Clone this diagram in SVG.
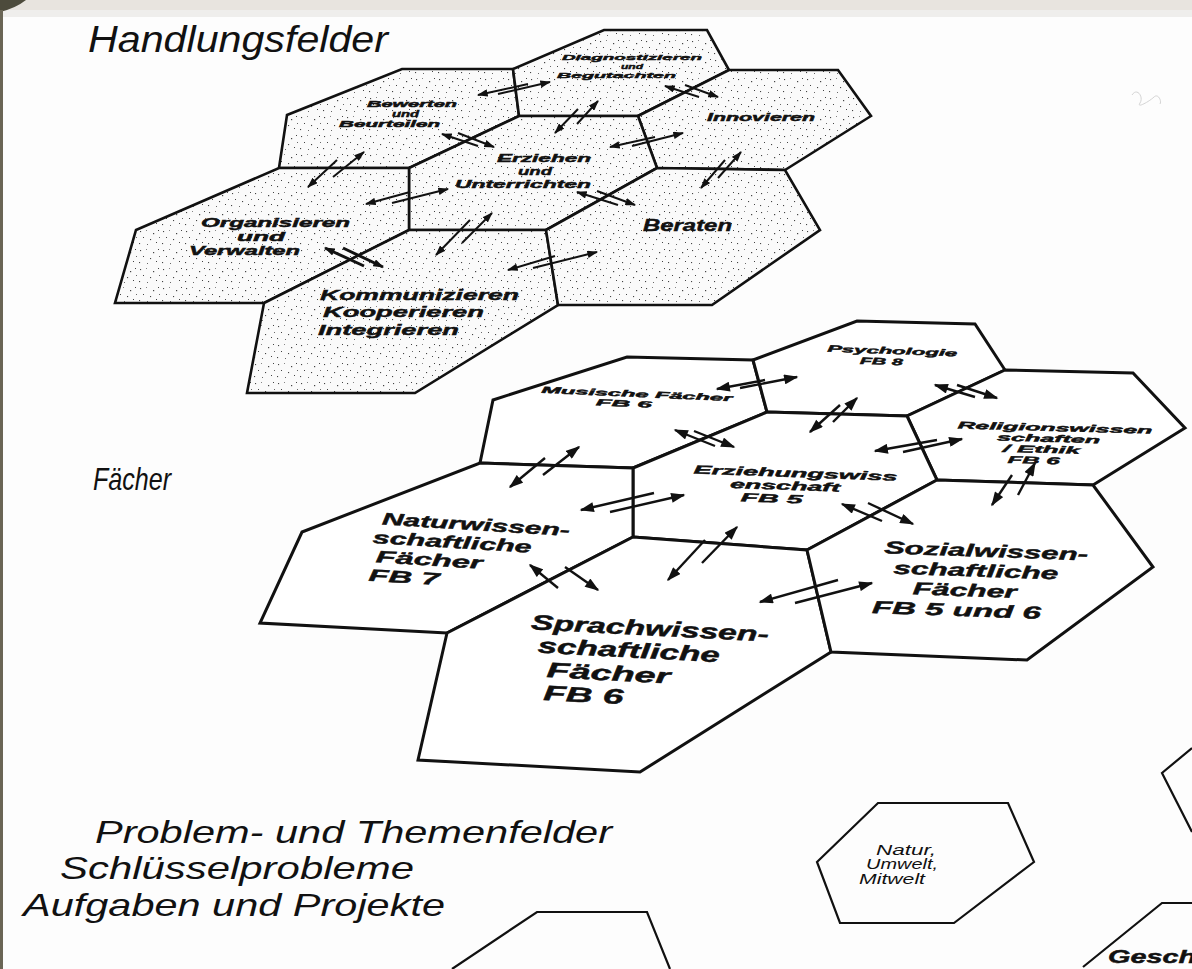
<svg xmlns="http://www.w3.org/2000/svg" width="1192" height="969" viewBox="0 0 1192 969">
<defs>
<pattern id="stip" width="23" height="19" patternUnits="userSpaceOnUse">
<rect width="23" height="19" fill="#fafafa"/>
<g fill="#444">
<rect x="2" y="3" width="1.1" height="1.1"/><rect x="15" y="5" width="1.2" height="1.2"/>
<rect x="20" y="2" width="1" height="1"/><rect x="5" y="9" width="1" height="1"/><rect x="12" y="11" width="1.1" height="1.1"/>
<rect x="18" y="14" width="1" height="1"/><rect x="1" y="15" width="1.1" height="1.1"/>
<rect x="9" y="16" width="0.9" height="0.9"/><rect x="21" y="9" width="0.9" height="0.9"/><rect x="8" y="2" width="0.8" height="0.8"/>
</g>
</pattern>
<marker id="ahS" viewBox="0 0 10 7" refX="9" refY="3.5" markerWidth="11" markerHeight="7.5" markerUnits="userSpaceOnUse" orient="auto"><path d="M0,0 L10,3.5 L0,7 z" fill="#111"/></marker>
<marker id="ahL" viewBox="0 0 10 7" refX="9" refY="3.5" markerWidth="15" markerHeight="10" markerUnits="userSpaceOnUse" orient="auto"><path d="M0,0 L10,3.5 L0,7 z" fill="#111"/></marker>
</defs>
<style>
.hexT{fill:url(#stip);stroke:#111;stroke-width:2.6;stroke-linejoin:miter}
.hexF{fill:#fff;stroke:#111;stroke-width:3}
.hexP{fill:none;stroke:#111;stroke-width:2.2}
.lbl{font-family:"Liberation Sans",Arial,sans-serif;font-weight:bold;font-style:italic;fill:#111;stroke:#111;stroke-width:0.45}
.head{font-family:"Liberation Sans Narrow","Liberation Sans",Arial,sans-serif;font-style:italic;fill:#111}
.reg{font-family:"Liberation Sans Narrow","Liberation Sans",Arial,sans-serif;font-style:italic;fill:#111}
.arT line{stroke:#111;stroke-width:2;marker-end:url(#ahS)}
.arX line{stroke:#111;stroke-width:3;marker-end:url(#ahS)}
.arF line{stroke:#111;stroke-width:2.4;marker-end:url(#ahL)}
</style>

<!-- page -->
<rect width="1192" height="969" fill="#fdfdfd"/>
<rect width="1192" height="10" fill="#e8e4df"/>
<rect y="10" width="1192" height="7" fill="#efeeec"/>
<path d="M0,0 H26 Q16,8 0,12 Z" fill="#4d4b3c"/>
<rect x="0" y="10" width="3" height="959" fill="#6a6555"/>
<path d="M1132,95 c5,-8 12,2 8,8 c-4,6 10,-2 14,-6 c4,-4 8,4 6,7" fill="none" stroke="#d4d4d4" stroke-width="1"/>

<!-- headings -->
<text class="head" x="88" y="52" font-size="36" textLength="300" lengthAdjust="spacingAndGlyphs">Handlungsfelder</text>
<text class="head" x="93" y="490" font-size="32" textLength="78" lengthAdjust="spacingAndGlyphs">Fächer</text>
<text class="head" x="95" y="843" font-size="32" textLength="517" lengthAdjust="spacingAndGlyphs">Problem- und Themenfelder</text>
<text class="head" x="60" y="879" font-size="32" textLength="354" lengthAdjust="spacingAndGlyphs">Schlüsselprobleme</text>
<text class="head" x="23" y="916" font-size="32" textLength="422" lengthAdjust="spacingAndGlyphs">Aufgaben und Projekte</text>

<!-- Handlungsfelder cluster -->
<g id="bewerten">
<polygon class="hexT" points="402,69 513,69 519,116 409,168 279,168 287,115"/>
<text class="lbl" font-size="9" x="367" y="107" textLength="90" lengthAdjust="spacingAndGlyphs">Bewerten</text>
<text class="lbl" font-size="9" x="392" y="117" textLength="27" lengthAdjust="spacingAndGlyphs">und</text>
<text class="lbl" font-size="9" x="339" y="127" textLength="101" lengthAdjust="spacingAndGlyphs">Beurteilen</text>
</g>
<g id="diagnostizieren">
<polygon class="hexT" points="604,30 707,30 729,70 638,116 519,116 513,69"/>
<text class="lbl" font-size="8" x="562" y="60" textLength="140" lengthAdjust="spacingAndGlyphs">Diagnostizieren</text>
<text class="lbl" font-size="8" x="621" y="69" textLength="22" lengthAdjust="spacingAndGlyphs">und</text>
<text class="lbl" font-size="8" x="557" y="78" textLength="119" lengthAdjust="spacingAndGlyphs">Begutachten</text>
</g>
<g id="innovieren">
<polygon class="hexT" points="729,70 838,70 871,116 785,170 657,168 638,116"/>
<text class="lbl" font-size="11" x="707" y="121" textLength="108" lengthAdjust="spacingAndGlyphs">Innovieren</text>
</g>
<g id="erziehen">
<polygon class="hexT" points="519,116 638,116 657,168 546,230 409,230 409,168"/>
<text class="lbl" font-size="11.5" x="497" y="162" textLength="94" lengthAdjust="spacingAndGlyphs">Erziehen</text>
<text class="lbl" font-size="11.5" x="518" y="175" textLength="34" lengthAdjust="spacingAndGlyphs">und</text>
<text class="lbl" font-size="11.5" x="455" y="188" textLength="136" lengthAdjust="spacingAndGlyphs">Unterrichten</text>
</g>
<g id="organisieren">
<polygon class="hexT" points="279,168 409,168 409,230 264,303 115,303 136,230"/>
<text class="lbl" font-size="12" x="201" y="227" textLength="149" lengthAdjust="spacingAndGlyphs">Organisieren</text>
<text class="lbl" font-size="12" x="237" y="241" textLength="48" lengthAdjust="spacingAndGlyphs">und</text>
<text class="lbl" font-size="12" x="189" y="255" textLength="111" lengthAdjust="spacingAndGlyphs">Verwalten</text>
</g>
<g id="kommunizieren">
<polygon class="hexT" points="409,230 546,230 558,305 415,393 247,393 264,303"/>
<text class="lbl" font-size="15.5" x="320" y="300" textLength="199" lengthAdjust="spacingAndGlyphs">Kommunizieren</text>
<text class="lbl" font-size="15.5" x="323" y="317" textLength="161" lengthAdjust="spacingAndGlyphs">Kooperieren</text>
<text class="lbl" font-size="15.5" x="318" y="335" textLength="141" lengthAdjust="spacingAndGlyphs">Integrieren</text>
</g>
<g id="beraten">
<polygon class="hexT" points="657,168 785,170 820,230 712,305 558,305 546,230"/>
<text class="lbl" font-size="17" x="643" y="231" textLength="89" lengthAdjust="spacingAndGlyphs">Beraten</text>
</g>

<!-- Fächer cluster -->
<g id="musische">
<polygon class="hexF" points="627,357 753,360 767,412 633,468 480,463 493,400"/>
<g transform="rotate(2.5 636 400)">
<text class="lbl" font-size="9" x="541" y="397" textLength="191" lengthAdjust="spacingAndGlyphs">Musische Fächer</text>
<text class="lbl" font-size="9" x="596" y="407" textLength="56" lengthAdjust="spacingAndGlyphs">FB 6</text>
</g>
</g>
<g id="psychologie">
<polygon class="hexF" points="857,321 975,324 1005,370 907,416 767,412 753,360"/>
<g transform="rotate(2 890 357)">
<text class="lbl" font-size="9.5" x="827" y="354" textLength="130" lengthAdjust="spacingAndGlyphs">Psychologie</text>
<text class="lbl" font-size="9.5" x="860" y="365" textLength="43" lengthAdjust="spacingAndGlyphs">FB 8</text>
</g>
</g>
<g id="religion">
<polygon class="hexF" points="1005,370 1133,373 1185,428 1093,485 937,480 907,416"/>
<g transform="rotate(1.5 1050 445)">
<text class="lbl" font-size="10" x="957" y="431" textLength="195" lengthAdjust="spacingAndGlyphs">Religionswissen</text>
<text class="lbl" font-size="10" x="997" y="442" textLength="103" lengthAdjust="spacingAndGlyphs">schaften</text>
<text class="lbl" font-size="10" x="1003" y="453" textLength="77" lengthAdjust="spacingAndGlyphs">/ Ethik</text>
<text class="lbl" font-size="10" x="1008" y="464" textLength="52" lengthAdjust="spacingAndGlyphs">FB 6</text>
</g>
</g>
<g id="erziehungswiss">
<polygon class="hexF" points="767,412 907,416 937,480 807,550 633,537 633,468"/>
<g transform="rotate(2 790 488)">
<text class="lbl" font-size="12" x="693" y="477" textLength="204" lengthAdjust="spacingAndGlyphs">Erziehungswiss</text>
<text class="lbl" font-size="12" x="730" y="490" textLength="110" lengthAdjust="spacingAndGlyphs">enschaft</text>
<text class="lbl" font-size="12" x="741" y="503" textLength="62" lengthAdjust="spacingAndGlyphs">FB 5</text>
</g>
</g>
<g id="naturwiss">
<polygon class="hexF" points="480,463 633,468 633,537 447,633 260,623 302,532"/>
<g transform="rotate(3.5 470 555)">
<text class="lbl" font-size="17" x="380" y="530" textLength="188" lengthAdjust="spacingAndGlyphs">Naturwissen-</text>
<text class="lbl" font-size="17" x="372" y="549" textLength="159" lengthAdjust="spacingAndGlyphs">schaftliche</text>
<text class="lbl" font-size="17" x="376" y="568" textLength="107" lengthAdjust="spacingAndGlyphs">Fächer</text>
<text class="lbl" font-size="17" x="370" y="587" textLength="71" lengthAdjust="spacingAndGlyphs">FB 7</text>
</g>
</g>
<g id="sprachwiss">
<polygon class="hexF" points="633,537 807,550 831,652 640,772 418,760 447,633"/>
<g transform="rotate(3 640 665)">
<text class="lbl" font-size="21" x="529" y="635" textLength="238" lengthAdjust="spacingAndGlyphs">Sprachwissen-</text>
<text class="lbl" font-size="21" x="537" y="658" textLength="182" lengthAdjust="spacingAndGlyphs">schaftliche</text>
<text class="lbl" font-size="21" x="547" y="682" textLength="124" lengthAdjust="spacingAndGlyphs">Fächer</text>
<text class="lbl" font-size="21" x="545" y="705" textLength="80" lengthAdjust="spacingAndGlyphs">FB 6</text>
</g>
</g>
<g id="sozialwiss">
<polygon class="hexF" points="937,480 1093,485 1153,567 1027,660 831,652 807,550"/>
<g transform="rotate(2 960 580)">
<text class="lbl" font-size="17.5" x="883" y="556" textLength="204" lengthAdjust="spacingAndGlyphs">Sozialwissen-</text>
<text class="lbl" font-size="17.5" x="893" y="576" textLength="165" lengthAdjust="spacingAndGlyphs">schaftliche</text>
<text class="lbl" font-size="17.5" x="913" y="596" textLength="104" lengthAdjust="spacingAndGlyphs">Fächer</text>
<text class="lbl" font-size="17.5" x="873" y="616" textLength="169" lengthAdjust="spacingAndGlyphs">FB 5 und 6</text>
</g>
</g>

<!-- bottom section -->
<g id="bottom-left-hex">
<polyline class="hexP" points="452,969 537,912 647,912 670,969"/>
</g>
<g id="natur">
<polygon class="hexP" points="878,803 1008,803 1034,862 954,923 840,923 817,862"/>
<text class="reg" font-size="14" x="876" y="855" textLength="60" lengthAdjust="spacingAndGlyphs">Natur,</text>
<text class="reg" font-size="14" x="866" y="869" textLength="72" lengthAdjust="spacingAndGlyphs">Umwelt,</text>
<text class="reg" font-size="14" x="859" y="884" textLength="66" lengthAdjust="spacingAndGlyphs">Mitwelt</text>
</g>
<g id="right-hex">
<polyline class="hexP" points="1192,748 1162,773 1192,832"/>
</g>
<g id="gesch">
<polyline class="hexP" points="1083,967 1162,903 1192,903"/>
<text class="lbl" font-size="18" x="1108" y="963" textLength="88" lengthAdjust="spacingAndGlyphs">Gesch</text>
</g>

<!-- connectors -->
<g id="connectors">
<g class="arT">
<line x1="528" y1="84" x2="478" y2="95"/><line x1="498" y1="94" x2="550" y2="82"/>
<line x1="578" y1="109" x2="555" y2="133"/><line x1="577" y1="124" x2="598" y2="101"/>
<line x1="699" y1="97" x2="665" y2="86"/><line x1="685" y1="85" x2="718" y2="97"/>
<line x1="478" y1="146" x2="442" y2="134"/><line x1="458" y1="133" x2="494" y2="147"/>
<line x1="337" y1="160" x2="308" y2="187"/><line x1="333" y1="177" x2="364" y2="152"/>
<line x1="410" y1="192" x2="366" y2="204"/><line x1="392" y1="203" x2="448" y2="189"/>
<line x1="655" y1="137" x2="610" y2="147"/><line x1="632" y1="146" x2="683" y2="133"/>
<line x1="618" y1="205" x2="577" y2="192"/><line x1="597" y1="191" x2="635" y2="205"/>
<line x1="725" y1="160" x2="701" y2="188"/><line x1="718" y1="178" x2="741" y2="152"/>
<line x1="470" y1="220" x2="436" y2="255"/><line x1="462" y1="243" x2="492" y2="213"/>
<line x1="555" y1="256" x2="508" y2="270"/><line x1="533" y1="268" x2="597" y2="252"/>
</g>
<g class="arX">
<line x1="364" y1="266" x2="325" y2="248"/><line x1="343" y1="248" x2="383" y2="267"/>
</g>
<g class="arF">
<line x1="765" y1="380" x2="717" y2="389"/><line x1="740" y1="388" x2="797" y2="377"/>
<line x1="840" y1="405" x2="810" y2="432"/><line x1="833" y1="422" x2="857" y2="398"/>
<line x1="975" y1="397" x2="935" y2="385"/><line x1="957" y1="385" x2="997" y2="398"/>
<line x1="715" y1="446" x2="675" y2="430"/><line x1="694" y1="431" x2="734" y2="447"/>
<line x1="937" y1="440" x2="875" y2="451"/><line x1="903" y1="452" x2="962" y2="439"/>
<line x1="1012" y1="475" x2="992" y2="505"/><line x1="1018" y1="495" x2="1035" y2="463"/>
<line x1="545" y1="458" x2="510" y2="487"/><line x1="543" y1="475" x2="579" y2="447"/>
<line x1="654" y1="493" x2="581" y2="510"/><line x1="610" y1="512" x2="684" y2="495"/>
<line x1="882" y1="521" x2="842" y2="504"/><line x1="868" y1="503" x2="913" y2="524"/>
<line x1="705" y1="540" x2="668" y2="580"/><line x1="702" y1="563" x2="737" y2="527"/>
<line x1="558" y1="588" x2="530" y2="565"/><line x1="565" y1="567" x2="598" y2="590"/>
<line x1="838" y1="580" x2="760" y2="602"/><line x1="795" y1="603" x2="872" y2="583"/>
</g>
</g>
</svg>
